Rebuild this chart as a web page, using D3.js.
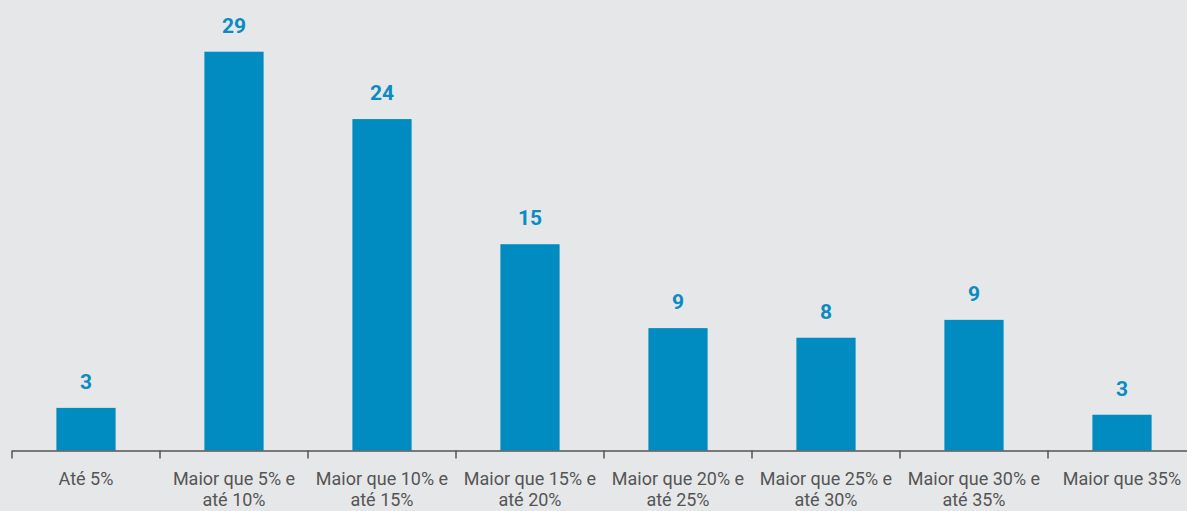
<!DOCTYPE html>
<html><head><meta charset="utf-8">
<script src="https://cdn.jsdelivr.net/npm/d3@7"></script>
<style>
html,body{margin:0;padding:0;background:#e6e7e9;}
svg{display:block;}
</style></head>
<body>
<svg id="chart" width="1187" height="511"></svg>
<script>
const categories = [
  ["Até 5%"],
  ["Maior que 5% e", "até 10%"],
  ["Maior que 10% e", "até 15%"],
  ["Maior que 15% e", "até 20%"],
  ["Maior que 20% e", "até 25%"],
  ["Maior que 25% e", "até 30%"],
  ["Maior que 30% e", "até 35%"],
  ["Maior que 35%"]
];
const values = [3.1, 29.0, 24.1, 15.0, 8.9, 8.2, 9.5, 2.6];
const valueLabels = ["3", "29", "24", "15", "9", "8", "9", "3"];

const svg = d3.select("#chart");
const W = 1187, H = 511;
const baseY = 450.5;
const keys = categories.map(c => c.join(" "));

const x = d3.scaleBand().domain(keys).range([12, 12 + 8 * 148]).paddingInner(0.6).paddingOuter(0.3);
const y = d3.scaleLinear().domain([0, 29]).range([baseY, baseY - 398.8]);

svg.append("rect").attr("width", W).attr("height", H).attr("fill", "#e6e7e9");

svg.selectAll("rect.bar").data(values).join("rect")
  .attr("class", "bar")
  .attr("x", (d, i) => x(keys[i]))
  .attr("width", x.bandwidth())
  .attr("y", d => y(d))
  .attr("height", d => baseY - y(d))
  .attr("fill", "#008cc1");

svg.selectAll("text.val").data(values).join("text")
  .attr("class", "val")
  .attr("x", (d, i) => x(keys[i]) + x.bandwidth() / 2)
  .attr("y", d => y(d) - 19)
  .attr("text-anchor", "middle")
  .attr("font-family", "Roboto, sans-serif")
  .attr("font-weight", "bold")
  .attr("font-size", "21px")
  .attr("fill", "#0a8cc1")
  .text((d, i) => valueLabels[i]);

// axis
const step = x.step();
const axisG = svg.append("g");
axisG.append("line")
  .attr("x1", x.range()[0]).attr("x2", W)
  .attr("y1", baseY + 0.5).attr("y2", baseY + 0.5)
  .attr("stroke", "#555").attr("stroke-width", 1.5);
const tickPos = d3.range(keys.length).map(i => x.range()[0] + i * step);
axisG.selectAll("line.tick").data(tickPos).join("line")
  .attr("class", "tick")
  .attr("x1", d => d).attr("x2", d => d)
  .attr("y1", baseY).attr("y2", baseY + 8)
  .attr("stroke", "#555").attr("stroke-width", 1.5);

const lab = svg.selectAll("text.cat").data(categories).join("text")
  .attr("class", "cat")
  .attr("text-anchor", "middle")
  .attr("font-family", "Roboto, sans-serif")
  .attr("font-size", "18px")
  .attr("fill", "#555");
lab.each(function(d, i) {
  const t = d3.select(this);
  const cx = x(keys[i]) + x.bandwidth() / 2;
  d.forEach((line, j) => {
    t.append("tspan").attr("x", cx).attr("y", 485 + j * 21).text(line);
  });
});
</script>
</body></html>
